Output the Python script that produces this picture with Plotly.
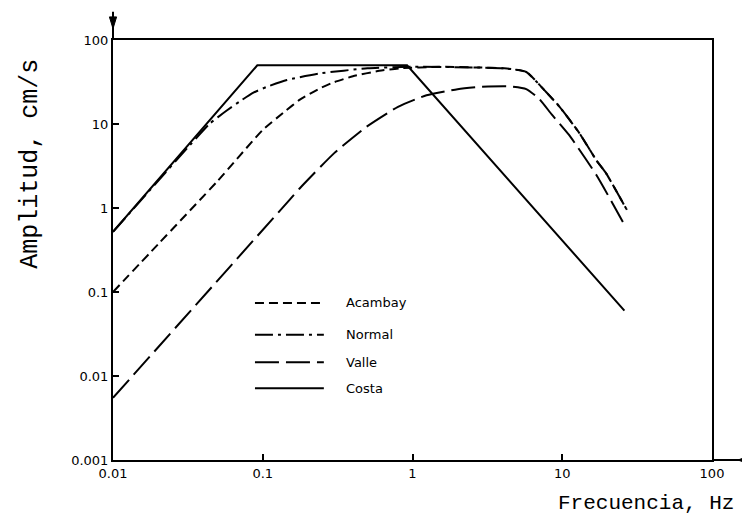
import plotly.graph_objects as go

# Frecuencia (Hz) y amplitud (cm/s)
costa_f = [0.01, 0.092, 0.92, 26]
costa_a = [0.52, 50, 50, 0.06]

normal_f = [0.01, 0.044, 0.05, 0.0575, 0.07, 0.086, 0.106, 0.145, 0.24, 0.5, 1, 2.8, 4.1, 5.75, 7.8, 9.6, 13, 16.9, 19.6, 27]
normal_a = [0.52, 10, 12, 14.5, 18.5, 23.5, 27.6, 33.4, 40, 46, 48, 47, 46, 41.6, 24, 16, 7.8, 3.7, 2.6, 0.95]

acambay_f = [0.01, 0.02, 0.05, 0.1, 0.14, 0.177, 0.24, 0.3, 0.4, 0.6, 0.82, 1.5, 2.8, 4.1, 5.75, 7.8, 9.6, 13, 16.9, 19.6, 27]
acambay_a = [0.1, 0.37, 2.1, 8.5, 14, 19.5, 26.5, 31.5, 37, 43, 46, 48, 47, 46, 41.6, 24, 16, 7.8, 3.7, 2.6, 0.95]

valle_f = [0.01, 0.151, 0.177, 0.3, 0.49, 0.8, 1.24, 2, 2.8, 4.4, 5.75, 7, 8.5, 11.1, 16.9, 26.3]
valle_a = [0.0055, 1.25, 1.72, 4.5, 9.2, 16, 22, 26, 27.6, 28, 26, 20, 13, 7.4, 2.47, 0.61]

x_ticks = [0.01, 0.1, 1, 10, 100]
x_labels = ["0.01", "0.1", "1", "10", "100"]
y_ticks = [0.001, 0.01, 0.1, 1, 10, 100]
y_labels = ["0.001", "0.01", "0.1", "1", "10", "100"]

series = [
    ("Acambay", acambay_f, acambay_a, "9px,5px", "spline"),
    ("Normal", normal_f, normal_a, "18px,5px,3px,5px", "spline"),
    ("Valle", valle_f, valle_a, "24px,7px", "spline"),
    ("Costa", costa_f, costa_a, "solid", "linear"),
]

fig = go.Figure()
for name, f, a, dash, shape in series:
    fig.add_trace(go.Scatter(
        x=f, y=a, mode="lines", name=name,
        line=dict(color="black", width=2, dash=dash, shape=shape, smoothing=0.5),
        showlegend=False,
    ))

# leyenda dibujada a mano (muestras largas como en el original)
leg_y = [0.374, 0.298, 0.233, 0.171]
for (name, f, a, dash, shape), yy in zip(series, leg_y):
    fig.add_shape(type="line", xref="paper", yref="paper",
                  x0=0.237, x1=0.352, y0=yy, y1=yy,
                  line=dict(color="black", width=2, dash=dash))
    fig.add_annotation(x=0.385, y=yy, xref="paper", yref="paper", text=name,
                       showarrow=False, xanchor="left", yanchor="middle",
                       font=dict(family="DejaVu Sans", size=13, color="black"))

# prolongacion de los ejes con flechas
fig.add_shape(type="line", xref="paper", yref="paper", x0=0, x1=0, y0=1, y1=1.067,
              line=dict(color="black", width=2))
fig.add_shape(type="path", xref="paper", yref="paper",
              path="M -0.006 1.055 L 0.006 1.055 L 0 1.027 Z",
              fillcolor="black", line=dict(color="black", width=1))
fig.add_shape(type="line", xref="paper", yref="paper", x0=1, x1=1.06, y0=0, y1=0,
              line=dict(color="black", width=2))
fig.add_shape(type="path", xref="paper", yref="paper",
              path="M 1.06 -0.008 L 1.06 0.008 L 1.043 0 Z",
              fillcolor="black", line=dict(color="black", width=1))

fig.add_annotation(x=-0.137, y=0.705, xref="paper", yref="paper", text="Amplitud, cm/s",
                   showarrow=False, textangle=-90, xanchor="center", yanchor="middle",
                   font=dict(family="Liberation Mono", size=25, color="black"))
fig.add_annotation(x=1.04, y=-0.103, xref="paper", yref="paper", text="Frecuencia, Hz",
                   showarrow=False, xanchor="right", yanchor="middle",
                   font=dict(family="Liberation Mono", size=21, color="black"))

axis_common = dict(
    showline=True, linecolor="black", linewidth=2, mirror=True,
    ticks="inside", ticklen=6, tickcolor="black", tickwidth=2,
    showgrid=False, zeroline=False,
    tickfont=dict(family="DejaVu Sans", size=13, color="black"),
)
fig.update_xaxes(type="log", range=[-2, 2], tickvals=x_ticks, ticktext=x_labels, **axis_common)
fig.update_yaxes(type="log", range=[-3, 2], tickvals=y_ticks, ticktext=y_labels, **axis_common)

# la pagina tiene 8px de margen: se compensa
fig.update_layout(
    width=742, height=520,
    margin=dict(l=105, r=38, t=32, b=68),
    paper_bgcolor="white", plot_bgcolor="white",
    showlegend=False,
)

fig.write_html("out.html")
